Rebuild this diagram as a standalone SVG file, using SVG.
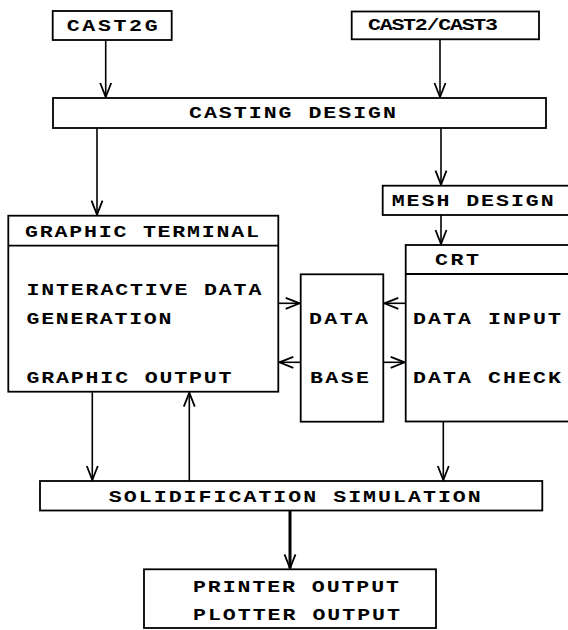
<svg xmlns="http://www.w3.org/2000/svg" width="568" height="630" viewBox="0 0 568 630">
<defs>
<style>
.box{fill:#fff;stroke:#000;stroke-width:1.8}
.sep{stroke:#000;stroke-width:1.8}
.t{font-family:"Liberation Mono","Courier New",monospace;font-weight:bold;font-size:16px;fill:#000}
.c{fill:none;stroke:#000;stroke-width:1.6}
.ct{fill:none;stroke:#000;stroke-width:3}
</style>
<marker id="ah" markerUnits="userSpaceOnUse" viewBox="-16 -8 18 16" refX="0" refY="0" markerWidth="18" markerHeight="16" orient="auto">
<path d="M-14,-5.5 L0,0 L-14,5.5" fill="none" stroke="#000" stroke-width="1.8"/>
</marker>
</defs>
<rect width="568" height="630" fill="#fff"/>
<g id="connectors">
<line class="c" x1="105.7" y1="40" x2="105.7" y2="97" marker-end="url(#ah)"/>
<line class="c" x1="440" y1="39.3" x2="440" y2="97" marker-end="url(#ah)"/>
<line class="c" x1="97" y1="128" x2="97" y2="214.7" marker-end="url(#ah)"/>
<line class="c" x1="441" y1="128" x2="441" y2="184.7" marker-end="url(#ah)"/>
<line class="c" x1="441" y1="215" x2="441" y2="244" marker-end="url(#ah)"/>
<line class="c" x1="278.3" y1="303.3" x2="299.7" y2="303.3" marker-end="url(#ah)"/>
<line class="c" x1="405.7" y1="303.3" x2="384.3" y2="303.3" marker-end="url(#ah)"/>
<line class="c" x1="300.7" y1="362.3" x2="279.3" y2="362.3" marker-end="url(#ah)"/>
<line class="c" x1="383.3" y1="362.3" x2="404.7" y2="362.3" marker-end="url(#ah)"/>
<line class="c" x1="92.3" y1="391.7" x2="92.3" y2="480" marker-end="url(#ah)"/>
<line class="c" x1="189.3" y1="481" x2="189.3" y2="392.7" marker-end="url(#ah)"/>
<line class="c" x1="443.3" y1="421.5" x2="443.3" y2="480" marker-end="url(#ah)"/>
<line class="ct" x1="290" y1="510.5" x2="290" y2="568.3" marker-end="url(#ah)"/>
</g>
<g id="cast2g">
<rect class="box" x="52.7" y="11" width="119" height="29"/>
<text class="t" transform="scale(1.35 1)" x="49.41" y="31" textLength="67.41" lengthAdjust="spacing">CAST2G</text>
</g>
<g id="cast2-cast3">
<rect class="box" x="351.7" y="11.5" width="187.3" height="27.8"/>
<text class="t" transform="scale(1.35 1)" x="272.59" y="30.5" textLength="96.3" lengthAdjust="spacing">CAST2/CAST3</text>
</g>
<g id="casting-design">
<rect class="box" x="53" y="98" width="493" height="30"/>
<text class="t" transform="scale(1.35 1)" x="140" y="118" textLength="153.33" lengthAdjust="spacing">CASTING DESIGN</text>
</g>
<g id="mesh-design">
<rect class="box" x="382.7" y="185.7" width="190" height="29.3"/>
<text class="t" transform="scale(1.35 1)" x="290.15" y="206" textLength="120" lengthAdjust="spacing">MESH DESIGN</text>
</g>
<g id="graphic-terminal">
<rect class="box" x="8.3" y="215.7" width="270" height="176"/>
<line class="sep" x1="8.3" y1="245.7" x2="278.3" y2="245.7"/>
<text class="t" transform="scale(1.35 1)" x="18.52" y="236.7" textLength="173.33" lengthAdjust="spacing">GRAPHIC TERMINAL</text>
<text class="t" transform="scale(1.35 1)" x="19.56" y="295" textLength="174.07" lengthAdjust="spacing">INTERACTIVE DATA</text>
<text class="t" transform="scale(1.35 1)" x="19.63" y="324" textLength="107.41" lengthAdjust="spacing">GENERATION</text>
<text class="t" transform="scale(1.35 1)" x="19.63" y="383.3" textLength="151.85" lengthAdjust="spacing">GRAPHIC OUTPUT</text>
</g>
<g id="data-base">
<rect class="box" x="300.7" y="274.3" width="82.6" height="147.4"/>
<text class="t" transform="scale(1.35 1)" x="228.89" y="324" textLength="43.7" lengthAdjust="spacing">DATA</text>
<text class="t" transform="scale(1.35 1)" x="229.63" y="382.7" textLength="43.7" lengthAdjust="spacing">BASE</text>
</g>
<g id="crt">
<rect class="box" x="405.7" y="245" width="170" height="176.5"/>
<line class="sep" x1="405.7" y1="274" x2="575" y2="274"/>
<text class="t" transform="scale(1.35 1)" x="322.22" y="265" textLength="32.59" lengthAdjust="spacing">CRT</text>
<text class="t" transform="scale(1.35 1)" x="305.93" y="324" textLength="109.63" lengthAdjust="spacing">DATA INPUT</text>
<text class="t" transform="scale(1.35 1)" x="305.93" y="383" textLength="109.63" lengthAdjust="spacing">DATA CHECK</text>
</g>
<g id="solidification-simulation">
<rect class="box" x="40" y="481" width="502.3" height="29.5"/>
<text class="t" transform="scale(1.35 1)" x="80.59" y="501.7" textLength="275.56" lengthAdjust="spacing">SOLIDIFICATION SIMULATION</text>
</g>
<g id="printer-plotter-output">
<rect class="box" x="144" y="569.3" width="292" height="58.7"/>
<text class="t" transform="scale(1.35 1)" x="142.96" y="591.7" textLength="152.59" lengthAdjust="spacing">PRINTER OUTPUT</text>
<text class="t" transform="scale(1.35 1)" x="142.96" y="620" textLength="153.33" lengthAdjust="spacing">PLOTTER OUTPUT</text>
</g>
</svg>
